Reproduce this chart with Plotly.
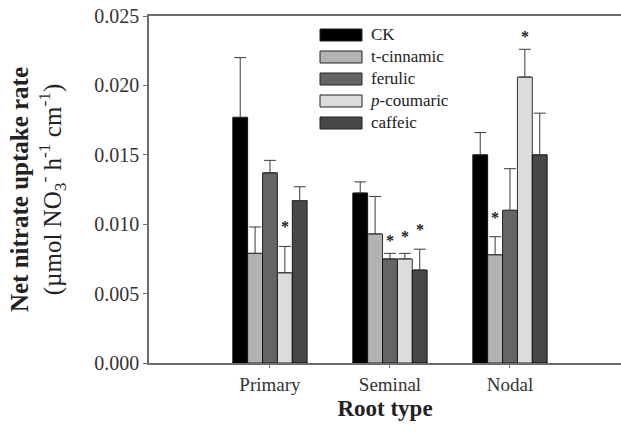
import plotly.graph_objects as go

categories = ["Primary", "Seminal", "Nodal"]
series_names = ["CK", "t-cinnamic", "ferulic", "<i>p</i>-coumaric", "caffeic"]
colors = ["#000000", "#b3b3b3", "#656565", "#dcdcdc", "#474747"]

ck = [0.0177, 0.01225, 0.0150]
t_cinnamic = [0.0079, 0.0093, 0.0078]
ferulic = [0.0137, 0.0075, 0.0110]
p_coumaric = [0.0065, 0.0075, 0.0206]
caffeic = [0.0117, 0.0067, 0.0150]
values = [ck, t_cinnamic, ferulic, p_coumaric, caffeic]

ck_err = [0.0043, 0.0008, 0.0016]
t_cinnamic_err = [0.0019, 0.0027, 0.0013]
ferulic_err = [0.0009, 0.0004, 0.0030]
p_coumaric_err = [0.0019, 0.0004, 0.0020]
caffeic_err = [0.0010, 0.0015, 0.0030]
errors = [ck_err, t_cinnamic_err, ferulic_err, p_coumaric_err, caffeic_err]

# significance stars: (category index, series index, y position)
star_cat = [0, 1, 1, 1, 2, 2]
star_series = [3, 2, 3, 4, 1, 3]
star_y = [0.0101, 0.0091, 0.0094, 0.0099, 0.0108, 0.0238]

FONT = "Liberation Serif"
bargap = 0.38
nser = len(series_names)
bw = (1 - bargap) / nser

W, H = 621, 434
ML, MR, MT, MB = 149, 0, 16, 71
PW, PH = W - ML - MR, H - MT - MB

fig = go.Figure()
for i in range(nser):
    fig.add_trace(go.Bar(
        name=series_names[i], x=categories, y=values[i], showlegend=False,
        marker=dict(color=colors[i], line=dict(color="#000000", width=0.8)),
        error_y=dict(type="data", symmetric=False, array=errors[i],
                     arrayminus=[0] * len(categories),
                     color="#3a3a3a", thickness=1, width=6),
    ))

for c, s, y in zip(star_cat, star_series, star_y):
    xpos = c - (1 - bargap) / 2 + bw * (s + 0.5)
    fig.add_annotation(x=xpos, y=y, xref="x", yref="y", text="<b>*</b>",
                       showarrow=False, yshift=-4,
                       font=dict(family=FONT, size=16, color="#222222"))

# legend drawn in paper coordinates (layout only)
leg_left_px, leg_first_row_px, leg_row_px = 320, 35, 22
sw_w, sw_h = 42, 12
for i in range(nser):
    cy = leg_first_row_px + i * leg_row_px
    fig.add_shape(type="rect", xref="paper", yref="paper",
                  x0=(leg_left_px - ML) / PW, x1=(leg_left_px + sw_w - ML) / PW,
                  y0=(H - MB - (cy + sw_h / 2)) / PH, y1=(H - MB - (cy - sw_h / 2)) / PH,
                  fillcolor=colors[i], line=dict(color="#222222", width=1))
# all legend labels as one multi-line text block (line height = 1.3 * 17 ≈ 22 px)
mid_px = leg_first_row_px + (nser - 1) * leg_row_px / 2
fig.add_annotation(xref="paper", yref="paper", x=(leg_left_px + sw_w + 6 - ML) / PW,
                   y=(H - MB - mid_px) / PH, xanchor="left", yanchor="middle",
                   align="left", text="<br>".join(series_names), showarrow=False,
                   font=dict(family=FONT, size=17, color="#222222"))

fig.update_layout(
    width=W, height=H,
    margin=dict(l=ML, r=MR, t=MT, b=MB),
    paper_bgcolor="white", plot_bgcolor="white",
    barmode="group", bargap=bargap, bargroupgap=0,
    font=dict(family=FONT, color="#222222"),
    showlegend=False,
)
fig.update_xaxes(
    range=[-1.008, 2.925], showline=True, linecolor="#6e6e6e", linewidth=1.5,
    mirror=True, ticks="outside", ticklen=3, tickcolor="#6e6e6e",
    tickfont=dict(family=FONT, size=19, color="#333333"),
    title=dict(text="<b>Root type</b>", font=dict(family=FONT, size=23, color="#222222"), standoff=6),
    showgrid=False, zeroline=False,
)
fig.update_yaxes(
    range=[0, 0.025], dtick=0.005, tickformat=".3f",
    showline=True, linecolor="#6e6e6e", linewidth=1.5,
    ticks="outside", ticklen=4, tickcolor="#6e6e6e",
    tickfont=dict(family=FONT, size=20, color="#333333"),
    title=dict(text="<b>Net nitrate uptake rate</b><br>(µmol NO<sub>3</sub><sup>-</sup> h<sup>-1</sup> cm<sup>-1</sup>)",
               font=dict(family=FONT, size=25, color="#222222"), standoff=26),
    showgrid=False, zeroline=False,
)

fig.write_html("out.html")
